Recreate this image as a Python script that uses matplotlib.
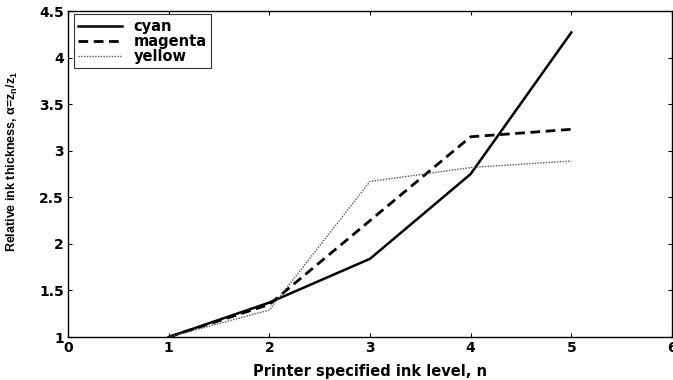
import matplotlib.pyplot as plt

# ink levels and relative thickness per colorant
levels = [1, 2, 3, 4, 5]
cyan = [1.0, 1.37, 1.84, 2.75, 4.27]
magenta = [1.0, 1.35, 2.25, 3.15, 3.23]
yellow = [1.0, 1.29, 2.67, 2.82, 2.89]

xticks = [0, 1, 2, 3, 4, 5, 6]
yticks = [1, 1.5, 2, 2.5, 3, 3.5, 4, 4.5]
ytick_labels = ['1', '1.5', '2', '2.5', '3', '3.5', '4', '4.5']

wide = ['DejaVu Sans']
narrow = ['Liberation Sans Narrow', 'Liberation Sans', 'DejaVu Sans']
plt.rcParams['font.family'] = narrow
plt.rcParams['mathtext.fontset'] = 'custom'
plt.rcParams['mathtext.rm'] = 'Liberation Sans:bold'
plt.rcParams['mathtext.it'] = 'Liberation Sans:bold'

fig = plt.figure(figsize=(6.73, 3.80), dpi=100)
ax = fig.add_axes([0.101, 0.113, 0.8975, 0.858])

ax.plot(levels, cyan, color='black', lw=1.8, ls='-', label='cyan')
ax.plot(levels, magenta, color='black', lw=2.0, ls=(0, (3.5, 2)), label='magenta')
ax.plot(levels, yellow, color='#555555', lw=1.0, ls=(0, (1, 1)), label='yellow')

ax.set_xlim(0, 6)
ax.set_ylim(1, 4.5)
ax.set_xticks(xticks)
ax.set_yticks(yticks)
ax.set_xticklabels([str(t) for t in xticks], fontweight='bold', fontsize=10, family=wide)
ax.set_yticklabels(ytick_labels, fontweight='bold', fontsize=10, family=wide)
ax.tick_params(direction='in', length=3, width=0.8, top=True, right=True, pad=3)
for s in ax.spines.values():
    s.set_linewidth(1.0)

ax.set_xlabel('Printer specified ink level, n', fontweight='bold', fontsize=10.5,
              family=wide, labelpad=6)
ax.set_ylabel(r'Relative ink thickness, $\alpha$=z$_n$/z$_1$', fontweight='bold',
              fontsize=9, family=narrow)
ax.yaxis.set_label_coords(-0.08, 0.54)

leg = ax.legend(loc='upper left', bbox_to_anchor=(0.01, 0.99), frameon=True,
                fancybox=False, edgecolor='black', handlelength=3.0, borderpad=0.3,
                labelspacing=0.0, handletextpad=0.8, borderaxespad=0.0,
                prop={'weight': 'bold', 'size': 10.5, 'family': wide})
leg.get_frame().set_linewidth(0.8)

fig.savefig('out.png', dpi=100)
